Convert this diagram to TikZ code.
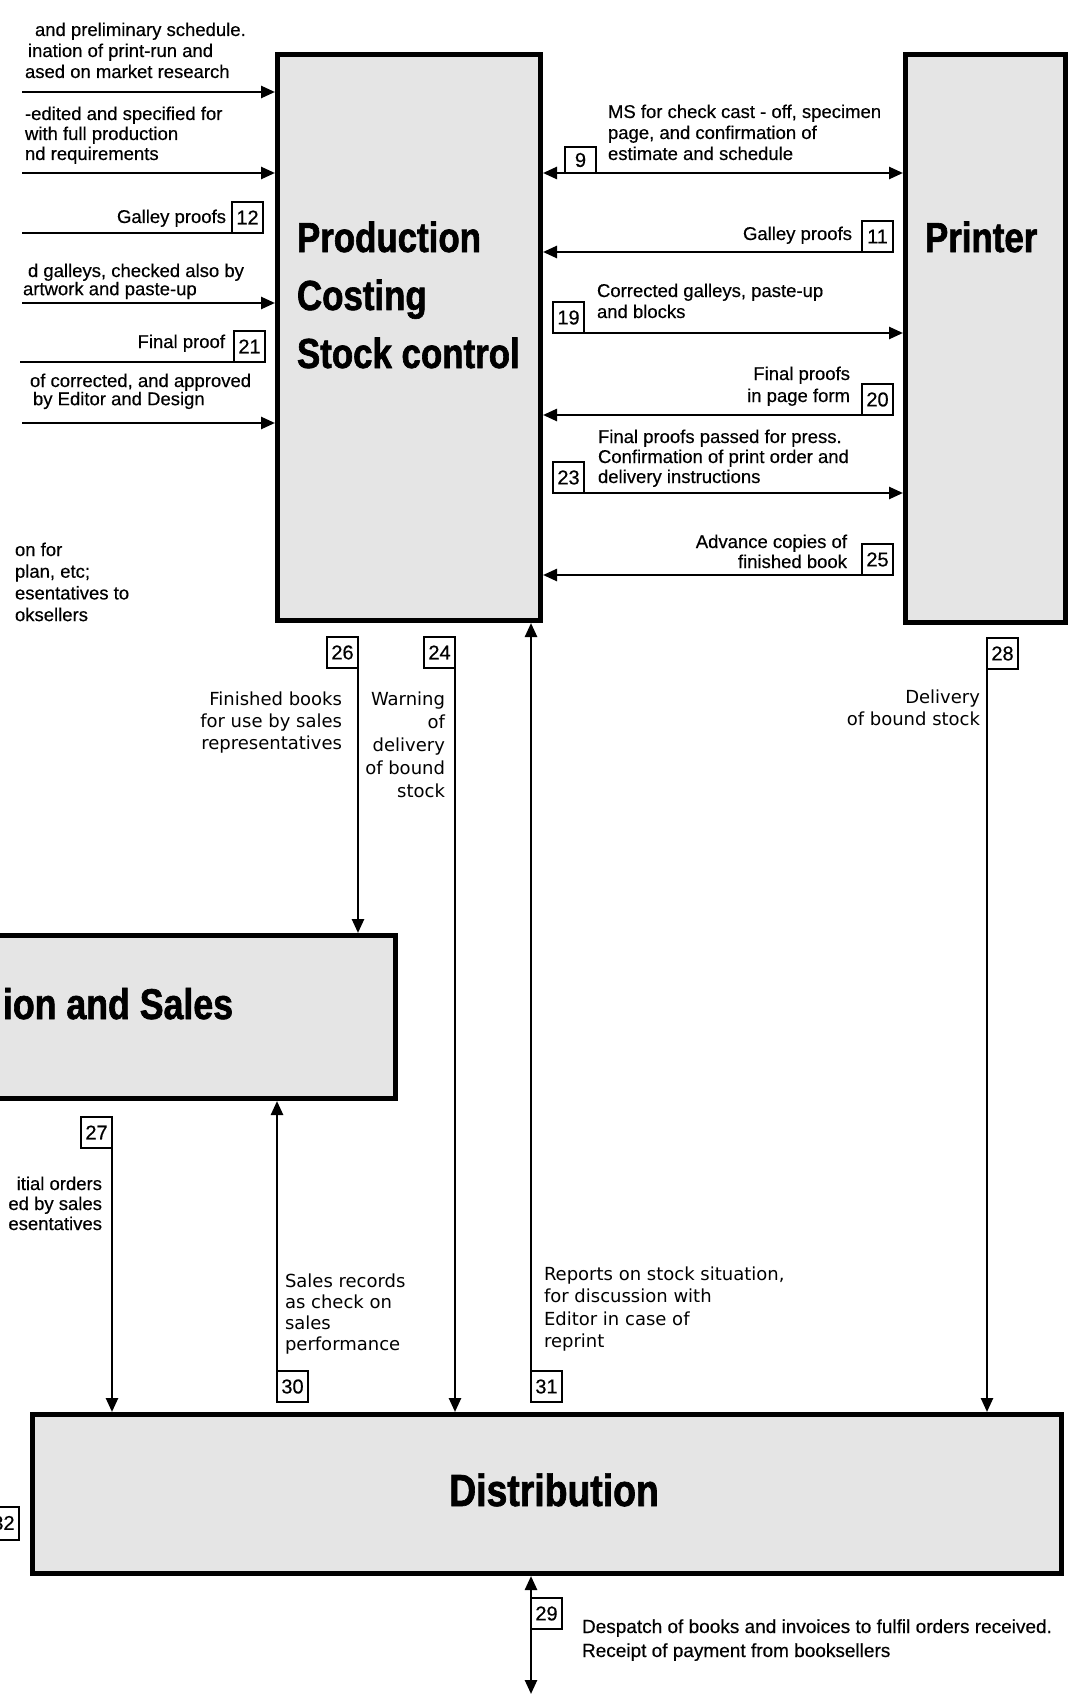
\documentclass[tikz,border=0pt]{standalone}
\usepackage{fontspec}
\setmainfont[FakeBold=0.4]{Liberation Sans}
\newfontfamily\titlefam[FakeStretch=0.83,FakeBold=1.5]{Liberation Sans}
\newfontfamily\lowfam{DejaVu Sans}
\usetikzlibrary{arrows.meta}
\definecolor{boxgrey}{gray}{0.9}
\newcommand{\TL}[1]{\begin{tabular}[t]{@{}l@{}}#1\end{tabular}}
\newcommand{\TR}[1]{\begin{tabular}[t]{@{}r@{}}#1\end{tabular}}
\newcommand{\labfont}[1]{\fontsize{18.5}{#1}\selectfont}
\newcommand{\lowfont}[1]{\lowfam\fontsize{18}{#1}\selectfont}
\tikzset{
  bigbox/.style={draw, line width=5pt, fill=boxgrey, inner sep=0pt},
  numbox/.style={draw, line width=2pt, fill=white, minimum width=31pt, minimum height=31pt,
                 inner sep=0pt, outer sep=0pt, font=\fontsize{20}{20}\selectfont},
  arr/.style={line width=2.5pt, -{Triangle[length=14pt,width=12pt]}},
  dbl/.style={line width=2.5pt, {Triangle[length=14pt,width=12pt]}-{Triangle[length=14pt,width=12pt]}},
  plain/.style={line width=2.5pt},
  txt/.style={inner sep=0pt, outer sep=0pt},
  ttl/.style={inner sep=0pt, outer sep=0pt, font=\titlefam\bfseries\fontsize{42}{58}\selectfont},
}
\begin{document}
\begin{tikzpicture}[x=1pt,y=-1pt]
\useasboundingbox (0,0) rectangle (1070,1696);
\clip (0,0) rectangle (1070,1696);
\fill[white] (0,0) rectangle (1070,1696);

% main boxes
\node[bigbox, minimum width=263pt, minimum height=566pt] (prod) at (409,337.5) {};
\node[bigbox, minimum width=160pt, minimum height=568pt] (print) at (985.5,338.5) {};
\node[bigbox, minimum width=443pt, minimum height=163pt] (sales) at (174,1017) {};
\node[bigbox, minimum width=1029pt, minimum height=159pt] (dist) at (547,1494) {};

% titles
\node[ttl, anchor=base west] (prodt) at (297,252) {\TL{Production\\Costing\\Stock control}};
\node[ttl, anchor=base west] (printt) at (925,252) {Printer};
\node[ttl, anchor=base west, font=\titlefam\bfseries\fontsize{43}{50}\selectfont] (salest) at (3,1019) {ion and Sales};
\node[ttl, anchor=base, font=\titlefam\bfseries\fontsize{45}{50}\selectfont] (distt) at (554,1506) {Distribution};

% left incoming arrows and texts
\node[txt, anchor=base west, font=\labfont{21}] (t1) at (25,36)
  {\TL{\hspace*{10pt}and preliminary schedule.\\\hspace*{3pt}ination of print-run and\\ased on market research}};
\coordinate (a1) at (22,92);
\draw[arr] (a1) -- (a1 -| prod.west);

\node[txt, anchor=base west, font=\labfont{20}] (t2) at (25,120)
  {\TL{-edited and specified for\\with full production\\nd requirements}};
\coordinate (a2) at (22,173);
\draw[arr] (a2) -- (a2 -| prod.west);

\node[numbox, anchor=south east] (n12) at (263,233) {12};
\node[txt, anchor=base east, font=\labfont{21}] (t12) at (226,223) {Galley proofs};
\coordinate (e12) at (22,233);
\draw[plain] (n12.south east) -- (e12);

\node[txt, anchor=base west, font=\labfont{16}] (t4) at (23,277)
  {\TL{\hspace*{5pt}d galleys, checked also by\\artwork and paste-up}};
\coordinate (a4) at (22,303);
\draw[arr] (a4) -- (a4 -| prod.west);

\node[numbox, anchor=south east] (n21) at (265,362) {21};
\node[txt, anchor=base east, font=\labfont{21}] (t21) at (225,348) {Final proof};
\coordinate (e21) at (20,362);
\draw[plain] (n21.south east) -- (e21);

\node[txt, anchor=base west, font=\labfont{16}] (t6) at (30,387)
  {\TL{of corrected, and approved\\\hspace*{3pt}by Editor and Design}};
\coordinate (a6) at (22,423);
\draw[arr] (a6) -- (a6 -| prod.west);

\node[txt, anchor=base west, font=\labfont{21.7}] (t7) at (15,556)
  {\TL{on for\\plan, etc;\\esentatives to\\oksellers}};

% between production and printer
\node[numbox, anchor=south west, minimum height=26pt] (n9) at (565,173) {9};
\node[txt, anchor=base west, font=\labfont{21}] (t9) at (608,118)
  {\TL{MS for check cast - off, specimen\\page, and confirmation of\\estimate and schedule}};
\coordinate (r9) at (700,173);
\draw[dbl] (r9 -| prod.east) -- (r9 -| print.west);

\node[numbox, anchor=south east] (n11) at (893,252) {11};
\node[txt, anchor=base east, font=\labfont{21}] (t11) at (852,240) {Galley proofs};
\draw[arr] (n11.south east) -- (n11.south east -| prod.east);

\node[numbox, anchor=south west] (n19) at (553,333) {19};
\node[txt, anchor=base west, font=\labfont{21}] (t19) at (597,297)
  {\TL{Corrected galleys, paste-up\\and blocks}};
\draw[arr] (n19.south west) -- (n19.south west -| print.west);

\node[numbox, anchor=south east] (n20) at (893,415) {20};
\node[txt, anchor=base east, font=\labfont{22}] (t20) at (850,380)
  {\TR{Final proofs\\in page form}};
\draw[arr] (n20.south east) -- (n20.south east -| prod.east);

\node[numbox, anchor=south west] (n23) at (553,493) {23};
\node[txt, anchor=base west, font=\labfont{20}] (t23) at (598,443)
  {\TL{Final proofs passed for press.\\Confirmation of print order and\\delivery instructions}};
\draw[arr] (n23.south west) -- (n23.south west -| print.west);

\node[numbox, anchor=south east] (n25) at (893,575) {25};
\node[txt, anchor=base east, font=\labfont{20}] (t25) at (847,548)
  {\TR{Advance copies of\\finished book}};
\draw[arr] (n25.south east) -- (n25.south east -| prod.east);

% downward flows
\node[numbox, anchor=north east] (n26) at (358,637) {26};
\node[txt, anchor=base east, font=\lowfont{22}] (t26) at (342,705)
  {\TR{Finished books\\for use by sales\\representatives}};
\draw[arr] (n26.north east) -- (n26.north east |- sales.north);

\node[numbox, anchor=north east] (n24) at (455,637) {24};
\node[txt, anchor=base east, font=\lowfont{23}] (t24) at (445,705)
  {\TR{Warning\\of\\delivery\\of bound\\stock}};
\draw[arr] (n24.north east) -- (n24.north east |- dist.north);

\node[numbox, anchor=north west] (n28) at (987,638) {28};
\node[txt, anchor=base east, font=\lowfont{22}] (t28) at (980,703)
  {\TR{Delivery\\of bound stock}};
\draw[arr] (n28.north west) -- (n28.north west |- dist.north);

\node[numbox, anchor=north east] (n27) at (112,1117) {27};
\node[txt, anchor=base east, font=\labfont{20}] (t27) at (102,1190)
  {\TR{itial orders\\ed by sales\\esentatives}};
\draw[arr] (n27.north east) -- (n27.north east |- dist.north);

% upward flows
\node[numbox, anchor=south west] (n30) at (277,1402) {30};
\node[txt, anchor=base west, font=\lowfont{21}] (t30) at (285,1287)
  {\TL{Sales records\\as check on\\sales\\performance}};
\draw[arr] (n30.south west) -- (n30.south west |- sales.south);

\node[numbox, anchor=south west] (n31) at (531,1402) {31};
\node[txt, anchor=base west, font=\lowfont{22.5}] (t31) at (544,1280)
  {\TL{Reports on stock situation,\\for discussion with\\Editor in case of\\reprint}};
\draw[arr] (n31.south west) -- (n31.south west |- prod.south);

% below distribution
\node[numbox, anchor=north west] (n29) at (531,1598) {29};
\node[txt, anchor=base west, font=\fontsize{19}{24}\selectfont] (t29) at (582,1633)
  {\TL{Despatch of books and invoices to fulfil orders received.\\Receipt of payment from booksellers}};
\coordinate (e29) at (531,1694);
\draw[dbl] (e29 |- dist.south) -- (e29);

\node[numbox, anchor=east, minimum height=33pt] (n32) at (19,1523) {32};
\end{tikzpicture}
\end{document}
